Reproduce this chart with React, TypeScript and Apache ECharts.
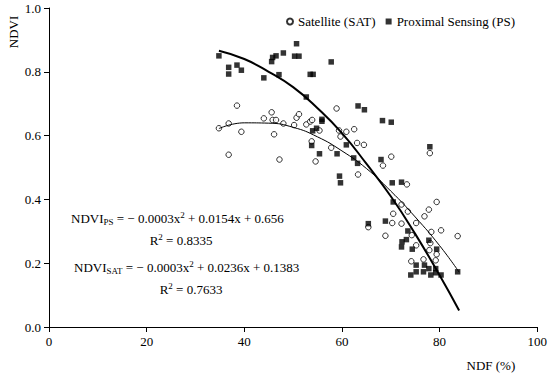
import React, { useEffect, useRef } from "react";
import * as echarts from "echarts";

const FONT = "'Liberation Serif', 'Times New Roman', serif";

const xTicks = [0, 20, 40, 60, 80, 100];
const yTicks = [0, 0.2, 0.4, 0.6, 0.8, 1.0];

const satNDF = [34.8, 36.8, 38.5, 39.4, 36.8, 44.0, 45.6, 45.8, 46.5, 48.0, 46.1, 50.2, 50.7, 51.2, 52.7, 53.5, 53.9, 55.4, 58.9, 47.2, 53.8, 54.6, 57.8, 59.4, 59.7, 60.9, 62.5, 63.1, 64.5, 63.3, 68.4, 70.1, 73.3, 78.0, 65.4, 79.4, 72.2, 77.8, 76.9, 73.5, 70.5, 70.3, 72.2, 75.2, 68.9, 74.3, 78.3, 80.3, 83.7, 75.2, 78.1, 77.9, 79.4, 79.2, 74.2, 76.7];
const satNDVI = [0.623, 0.638, 0.694, 0.612, 0.540, 0.654, 0.673, 0.649, 0.649, 0.638, 0.604, 0.633, 0.656, 0.667, 0.635, 0.644, 0.649, 0.616, 0.685, 0.525, 0.582, 0.519, 0.562, 0.616, 0.597, 0.612, 0.620, 0.577, 0.571, 0.478, 0.506, 0.534, 0.447, 0.545, 0.313, 0.392, 0.384, 0.368, 0.347, 0.362, 0.355, 0.326, 0.324, 0.326, 0.286, 0.288, 0.298, 0.303, 0.285, 0.256, 0.263, 0.241, 0.228, 0.209, 0.206, 0.212];

const psNDF = [34.8, 36.8, 36.8, 38.5, 39.4, 44.0, 45.6, 45.8, 46.5, 48.0, 50.7, 50.3, 51.2, 47.1, 53.5, 54.1, 57.8, 52.7, 55.9, 55.9, 54.0, 54.8, 53.8, 55.4, 59.0, 60.9, 63.3, 64.6, 68.3, 70.1, 62.4, 63.2, 59.5, 59.7, 68.0, 70.3, 72.2, 78.0, 65.4, 70.5, 68.9, 73.5, 72.3, 73.2, 72.2, 74.4, 77.8, 79.4, 75.2, 76.9, 77.8, 79.2, 75.2, 76.7, 74.1, 78.2, 80.3, 79.2, 83.7];
const psNDVI = [0.850, 0.814, 0.793, 0.821, 0.805, 0.781, 0.832, 0.845, 0.850, 0.859, 0.888, 0.849, 0.849, 0.791, 0.792, 0.792, 0.831, 0.721, 0.651, 0.645, 0.615, 0.623, 0.569, 0.543, 0.543, 0.571, 0.693, 0.681, 0.647, 0.642, 0.530, 0.513, 0.473, 0.452, 0.525, 0.452, 0.454, 0.565, 0.324, 0.392, 0.332, 0.301, 0.267, 0.274, 0.251, 0.244, 0.272, 0.244, 0.194, 0.194, 0.183, 0.183, 0.173, 0.173, 0.163, 0.163, 0.163, 0.170, 0.173];

// trend lines
const trendNDF = [34.8, 40, 45, 50, 55, 60, 65, 70, 75, 80, 84];
const psTrend = [0.866, 0.84, 0.80, 0.752, 0.686, 0.608, 0.512, 0.41, 0.292, 0.162, 0.052];
const satTrend = [0.622, 0.64, 0.639, 0.626, 0.596, 0.552, 0.497, 0.426, 0.345, 0.255, 0.172];

const zip = (a: number[], b: number[]) => a.map((v, i) => [v, b[i]]);

const rich = {
  n: { fontSize: 13, fontFamily: FONT, fill: "#000", lineHeight: 16, verticalAlign: "middle" },
  s: { fontSize: 9, fontFamily: FONT, fill: "#000", lineHeight: 9, verticalAlign: "bottom" },
  p: { fontSize: 9, fontFamily: FONT, fill: "#000", lineHeight: 9, verticalAlign: "top" },
};

export default function App() {
  const ref = useRef<HTMLDivElement>(null);
  useEffect(() => {
    if (!ref.current) return;
    const chart = echarts.init(ref.current, undefined, { renderer: "svg" });
    const option: any = {
      animation: false,
      backgroundColor: "#fff",
      textStyle: { fontFamily: FONT, color: "#000" },
      grid: { left: 49, right: 11, top: 8, bottom: 48 },
      legend: {
        data: ["Satellite (SAT)", "Proximal Sensing (PS)"],
        left: 281,
        top: 10,
        itemWidth: 6,
        itemHeight: 6,
        itemGap: 10,
        textStyle: { fontFamily: FONT, fontSize: 13, color: "#000" },
      },
      xAxis: {
        type: "value",
        min: xTicks[0],
        max: xTicks[xTicks.length - 1],
        interval: 20,
        name: "NDF (%)",
        nameLocation: "end",
        nameGap: -22,
        nameTextStyle: { fontFamily: FONT, fontSize: 13, color: "#000", align: "right", verticalAlign: "top", padding: [32, 0, 0, 0] },
        axisLine: { lineStyle: { color: "#000", width: 1 } },
        axisTick: { show: true, length: 5, lineStyle: { color: "#000" } },
        axisLabel: { fontFamily: FONT, fontSize: 13, color: "#000", margin: 8 },
        splitLine: { show: false },
      },
      yAxis: {
        type: "value",
        min: yTicks[0],
        max: yTicks[yTicks.length - 1],
        interval: 0.2,
        axisLine: { show: true, lineStyle: { color: "#000", width: 1 } },
        axisTick: { show: true, length: 5, lineStyle: { color: "#000" } },
        axisLabel: { fontFamily: FONT, fontSize: 13, color: "#000", margin: 8, formatter: (v: number) => v.toFixed(1) },
        splitLine: { show: false },
      },
      series: [
        {
          name: "Satellite (SAT)",
          type: "scatter",
          symbol: "circle",
          symbolSize: 5.5,
          itemStyle: { color: "#fff", borderColor: "#000", borderWidth: 1 },
          data: zip(satNDF, satNDVI),
          z: 2,
        },
        {
          name: "Proximal Sensing (PS)",
          type: "scatter",
          symbol: "rect",
          symbolSize: 5.5,
          itemStyle: { color: "#000" },
          data: zip(psNDF, psNDVI),
          z: 2,
        },
        {
          name: "PS trend",
          type: "line",
          smooth: true,
          showSymbol: false,
          lineStyle: { color: "#000", width: 2 },
          data: zip(trendNDF, psTrend),
          z: 3,
        },
        {
          name: "SAT trend",
          type: "line",
          smooth: true,
          showSymbol: false,
          lineStyle: { color: "#000", width: 1 },
          data: zip(trendNDF, satTrend),
          z: 3,
        },
      ],
      graphic: [
        {
          type: "text",
          x: 13,
          y: 32,
          rotation: Math.PI / 2,
          style: { text: "NDVI", fontFamily: FONT, fontSize: 13, fill: "#000", align: "center", verticalAlign: "middle" },
        },
        {
          type: "text",
          x: 71,
          y: 218,
          style: { text: "{n|NDVI}{s|PS}{n| = − 0.0003x}{p|2}{n| + 0.0154x + 0.656}", rich, align: "left", verticalAlign: "middle" },
        },
        {
          type: "text",
          x: 181,
          y: 240,
          style: { text: "{n|R}{p|2}{n| = 0.8335}", rich, align: "center", verticalAlign: "middle" },
        },
        {
          type: "text",
          x: 74,
          y: 267,
          style: { text: "{n|NDVI}{s|SAT}{n| = − 0.0003x}{p|2}{n| + 0.0236x + 0.1383}", rich, align: "left", verticalAlign: "middle" },
        },
        {
          type: "text",
          x: 191,
          y: 289,
          style: { text: "{n|R}{p|2}{n| = 0.7633}", rich, align: "center", verticalAlign: "middle" },
        },
      ],
    };
    chart.setOption(option);
    return () => chart.dispose();
  }, []);
  return <div ref={ref} style={{ position: "fixed", left: 0, top: 0, width: 550, height: 375 }} />;
}
